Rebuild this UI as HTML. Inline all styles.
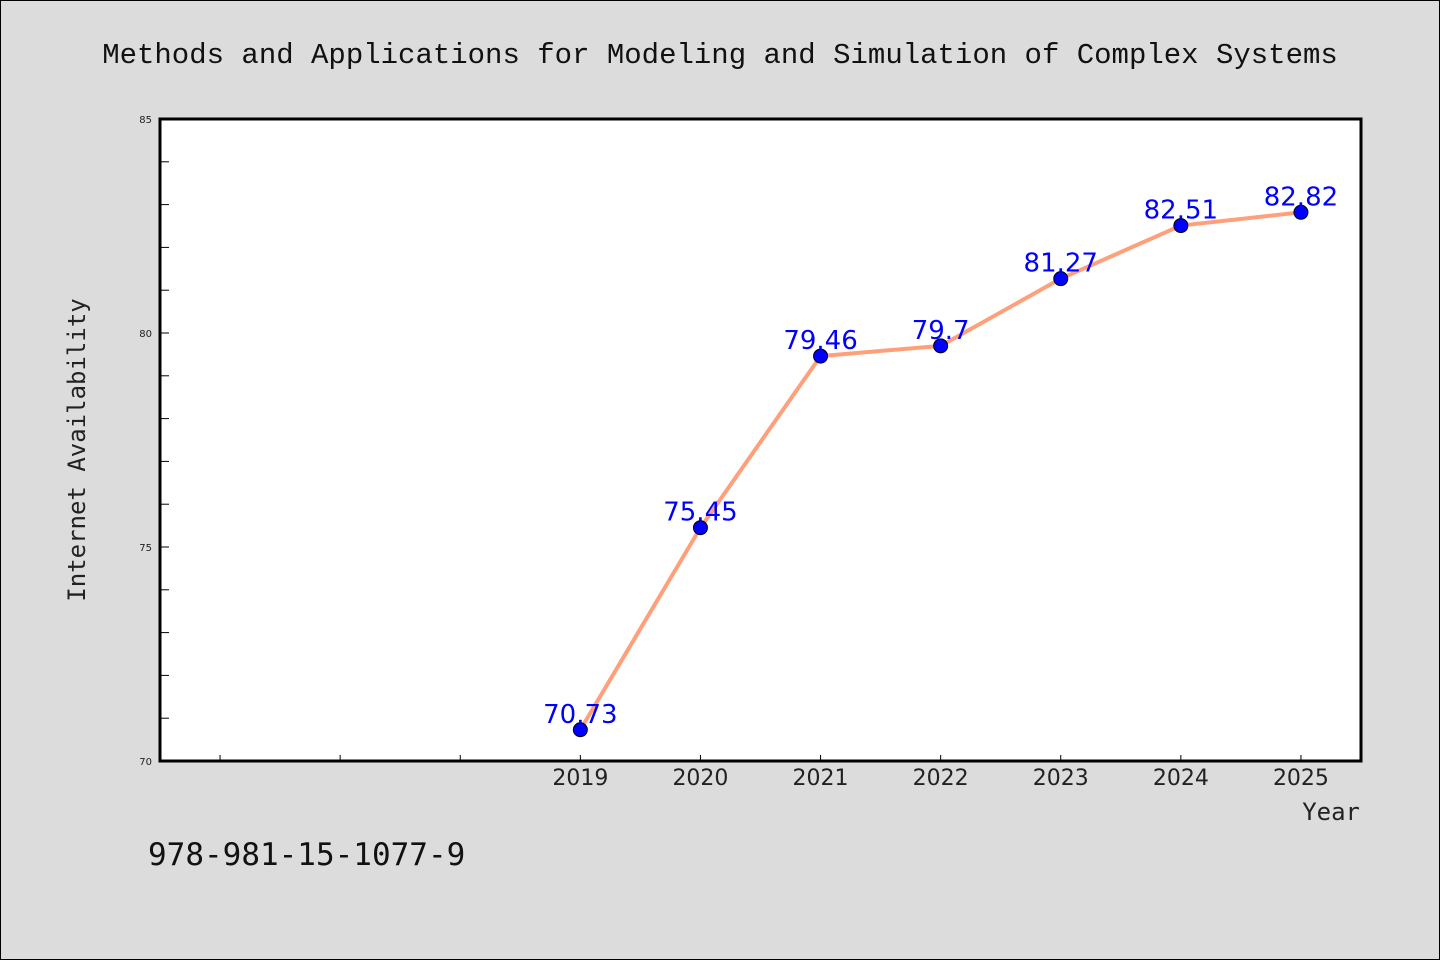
<!DOCTYPE html>
<html><head><meta charset="utf-8"><style>
body{margin:0;background:#dcdcdc;}
svg{display:block;font-family:"Liberation Mono","DejaVu Sans Mono",monospace;}
</style></head><body>
<svg id="chart" width="1440" height="960" xmlns="http://www.w3.org/2000/svg">
<rect x="0.5" y="0.5" width="1439" height="959" fill="#dcdcdc" stroke="#000" stroke-width="1"/>
<text x="720" y="63" text-anchor="middle" font-size="29" fill="#111">Methods and Applications for Modeling and Simulation of Complex Systems</text>
<rect x="160" y="119" width="1201" height="642" fill="#fff"/>
<g id="ticks"></g>
<g id="series"></g>
<rect x="160" y="119" width="1201" height="642" fill="none" stroke="#000" stroke-width="3"/>
<text transform="translate(85,450) rotate(-90)" text-anchor="middle" font-size="24" fill="#222" font-family="DejaVu Sans Mono,monospace">Internet Availability</text>
<text x="1360" y="820" text-anchor="end" font-size="24" fill="#222" font-family="DejaVu Sans Mono,monospace">Year</text>
<text x="148" y="865" font-size="31" fill="#111" font-family="DejaVu Sans Mono,monospace">978-981-15-1077-9</text>
</svg>
<script>
const years = [2019, 2020, 2021, 2022, 2023, 2024, 2025];
const values = [70.73, 75.45, 79.46, 79.7, 81.27, 82.51, 82.82];
const labels = ["70.73", "75.45", "79.46", "79.7", "81.27", "82.51", "82.82"];
const yTicks = [70, 75, 80, 85];

const NS = "http://www.w3.org/2000/svg";
const X0 = 160, X1 = 1361, Y0 = 761, Y1 = 119;
const xMin = 2015.5, xMax = 2025.5, yMin = 70, yMax = 85;
const xs = v => X0 + (v - xMin) / (xMax - xMin) * (X1 - X0);
const ys = v => Y0 - (v - yMin) / (yMax - yMin) * (Y0 - Y1);
function mk(tag, attrs, parent, text) {
  const e = document.createElementNS(NS, tag);
  for (const k in attrs) e.setAttribute(k, attrs[k]);
  if (text !== undefined) e.textContent = text;
  parent.appendChild(e);
  return e;
}
const tg = document.getElementById("ticks");
for (let v = yMin + 1; v < yMax; v++) {
  const t = mk("line", {x1: X0, x2: X0 + 9, y1: ys(v), y2: ys(v), stroke: "#000", "stroke-width": 1}, tg);
  
  
}
yTicks.forEach(v => {
  const t = mk("text", {x: 152, y: ys(v) + 4, "text-anchor": "end", "font-size": 10, fill: "#222", "font-family": "DejaVu Sans,sans-serif"}, tg, String(v));
  
  
});
for (let y = Math.ceil(xMin); y <= Math.floor(xMax); y++) {
  const t = mk("line", {x1: xs(y), x2: xs(y), y1: Y0, y2: Y0 - 6, stroke: "#000", "stroke-width": 1}, tg);
  
  
}
years.forEach(y => {
  const t = mk("text", {x: xs(y), y: 785, "text-anchor": "middle", "font-size": 22, fill: "#222", "font-family": "DejaVu Sans,sans-serif"}, tg, String(y));
  
  
});
const sg = document.getElementById("series");
const pts = years.map((y, i) => xs(y) + "," + ys(values[i])).join(" ");
const line = mk("polyline", {points: pts, fill: "none", stroke: "#ffa07a", "stroke-width": 4, "stroke-linejoin": "round"}, sg);


years.forEach((y, i) => {
  const c = mk("circle", {cx: xs(y), cy: ys(values[i]), r: 7, fill: "#0000ff", stroke: "#000", "stroke-width": 1}, sg);
  
  
});
years.forEach((y, i) => {
  const t = mk("text", {x: xs(y), y: ys(values[i]) - 7, "text-anchor": "middle", "font-size": 26, fill: "#0000ff", "font-family": "DejaVu Sans,sans-serif"}, sg, labels[i]);
  
  
});
</script>
</body></html>
